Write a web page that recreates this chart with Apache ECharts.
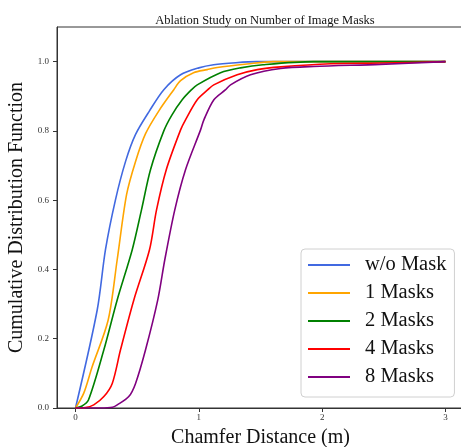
<!DOCTYPE html>
<html>
<head>
<meta charset="utf-8">
<script src="https://cdn.jsdelivr.net/npm/echarts@6/dist/echarts.min.js"></script>
<style>
html,body{margin:0;padding:0;background:#fff;}
#chart{width:461px;height:447px;}
</style>
</head>
<body>
<div id="chart"></div>
<script>
// ---- data ----
const seriesNames = ['w/o Mask', '1 Masks', '2 Masks', '4 Masks', '8 Masks'];
const xTicks = [0, 1, 2, 3];
const yTicks = [0, 0.2, 0.4, 0.6, 0.8, 1.0];

const noMask = [[0,0],[0.176,0.283],[0.243,0.457],[0.324,0.601],[0.406,0.712],[0.487,0.790],[0.600,0.858],[0.716,0.919],[0.852,0.962],[1.0,0.982],[1.12,0.991],[1.3,0.997],[1.47,1.0],[3.0,1.0]];
const masks1 = [[0,0],[0.067,0.043],[0.135,0.119],[0.265,0.254],[0.338,0.428],[0.414,0.616],[0.487,0.712],[0.568,0.792],[0.676,0.858],[0.797,0.919],[0.852,0.945],[0.957,0.968],[1.068,0.977],[1.149,0.983],[1.39,0.993],[1.6,1.0],[3.0,1.0]];
const masks2 = [[0,0],[0.05,0.005],[0.105,0.023],[0.230,0.168],[0.338,0.312],[0.460,0.457],[0.535,0.572],[0.608,0.688],[0.716,0.800],[0.78,0.845],[0.865,0.890],[0.941,0.919],[0.987,0.933],[1.176,0.968],[1.338,0.982],[1.52,0.991],[1.93,1.0],[3.0,1.0]];
const masks4 = [[0,0],[0.08,0.001],[0.148,0.009],[0.230,0.033],[0.298,0.071],[0.365,0.168],[0.473,0.312],[0.600,0.457],[0.657,0.572],[0.736,0.688],[0.852,0.803],[0.892,0.832],[0.987,0.890],[1.073,0.919],[1.121,0.933],[1.311,0.962],[1.474,0.977],[1.663,0.985],[2.07,0.994],[2.5,0.996],[3.0,1.0]];
const masks8 = [[0,0],[0.2,0],[0.3,0.002],[0.338,0.009],[0.432,0.033],[0.487,0.071],[0.568,0.168],[0.667,0.312],[0.724,0.428],[0.805,0.572],[0.892,0.688],[1.014,0.803],[1.041,0.832],[1.122,0.890],[1.217,0.919],[1.257,0.933],[1.419,0.962],[1.663,0.980],[1.93,0.986],[2.47,0.992],[3.0,1.0]];

const allData = [noMask, masks1, masks2, masks4, masks8];
const colors = ['#4169E1', '#FFA500', '#008000', '#FF0000', '#800080'];

const FONT = '"Liberation Serif", "Times New Roman", serif';

const chart = echarts.init(document.getElementById('chart'), null, {renderer: 'canvas'});
chart.setOption({
  animation: false,
  backgroundColor: '#fff',
  title: {
    text: 'Ablation Study on Number of Image Masks',
    left: 260, top: 9, textAlign: 'center',
    textStyle: {fontFamily: FONT, fontSize: 12.5, fontWeight: 'normal', color: '#111'}
  },
  grid: {left: 57, top: 27, right: -3, bottom: 39, show: true, borderColor: '#333', borderWidth: 1, outerBoundsMode: 'none', containLabel: false},
  legend: {
    orient: 'vertical', left: 301, top: 249,
    padding: [5, 8, 9, 7],
    itemWidth: 42, itemHeight: 2, itemGap: 6,
    icon: 'rect',
    backgroundColor: 'rgba(255,255,255,0.85)',
    borderColor: '#d0d0d0', borderWidth: 1, borderRadius: 4,
    textStyle: {fontFamily: FONT, fontSize: 20.5, lineHeight: 22, color: '#111', padding: [0, 0, 0, 10]},
    data: seriesNames
  },
  xAxis: {
    type: 'value', min: -0.15, max: 3.15,
    name: 'Chamfer Distance (m)', nameLocation: 'middle', nameGap: 20,
    nameTextStyle: {fontFamily: FONT, fontSize: 20, color: '#111'},
    axisLine: {show: true, onZero: false, lineStyle: {color: '#333'}},
    axisTick: {show: true, length: 4, customValues: xTicks, lineStyle: {color: '#333'}},
    axisLabel: {customValues: xTicks, fontFamily: FONT, fontSize: 9, color: '#333', margin: 5},
    splitLine: {show: false}
  },
  yAxis: {
    type: 'value', min: 0, max: 1.1,
    name: 'Cumulative Distribution Function', nameLocation: 'middle', nameGap: 30,
    nameTextStyle: {fontFamily: FONT, fontSize: 20, color: '#111'},
    axisLine: {show: true, onZero: false, lineStyle: {color: '#333'}},
    axisTick: {show: true, length: 4, customValues: yTicks, lineStyle: {color: '#333'}},
    axisLabel: {customValues: yTicks, fontFamily: FONT, fontSize: 9, color: '#333', margin: 8,
      formatter: v => v.toFixed(1)},
    splitLine: {show: false}
  },
  series: seriesNames.map((n, i) => ({
    name: n, type: 'line', data: allData[i],
    showSymbol: false, symbol: 'none',
    smooth: 0.3,
    lineStyle: {color: colors[i], width: 1.6},
    itemStyle: {color: colors[i]},
    z: 2 + i
  }))
});
</script>
</body>
</html>
